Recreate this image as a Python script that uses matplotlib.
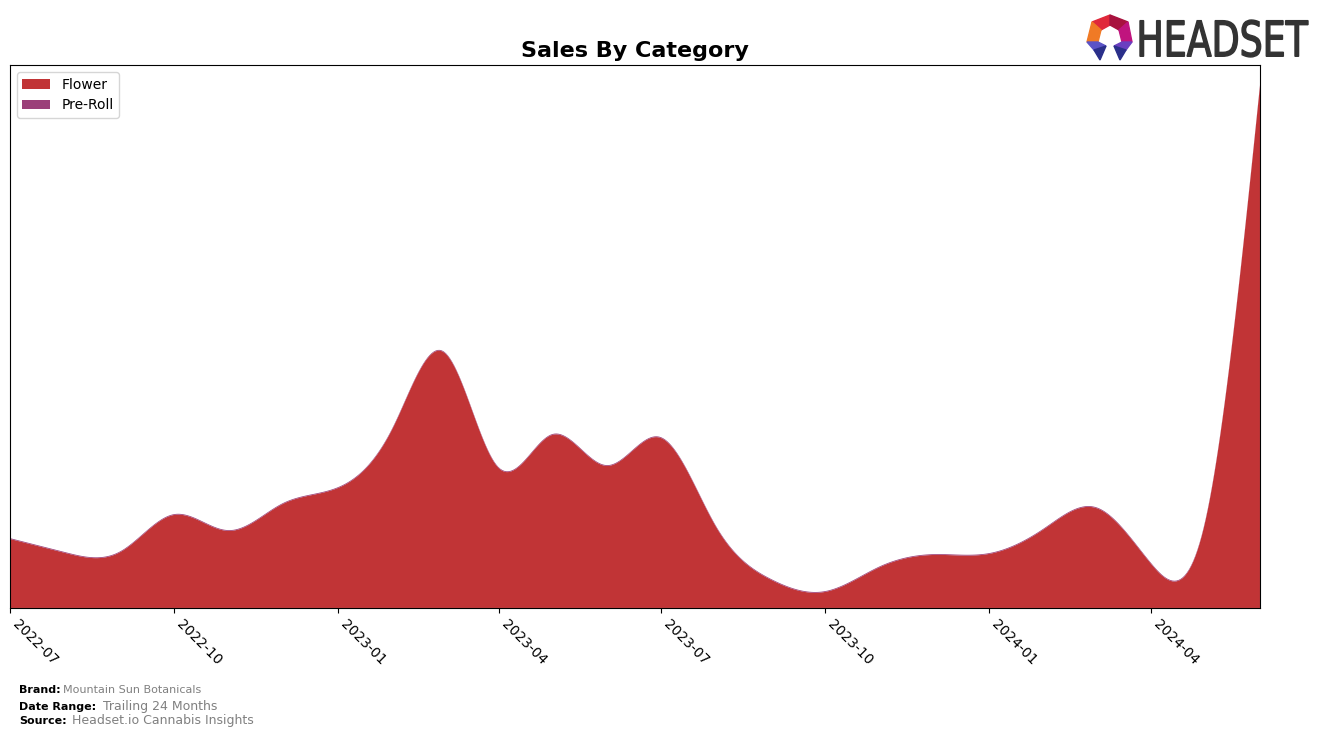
import numpy as np
import pandas as pd
import matplotlib
matplotlib.use('Agg')
import matplotlib.pyplot as plt
import matplotlib.dates as mdates
from matplotlib.textpath import TextPath
from matplotlib.patches import PathPatch, Polygon
from matplotlib.font_manager import FontProperties
import matplotlib.transforms as mtransforms

# monthly sales (arbitrary units)
months = pd.date_range("2022-07-01", "2024-06-01", freq="MS")
flower = [69, 55, 56, 93, 77, 104, 120, 181, 256, 140, 173, 142,
          170, 81, 28, 16, 41, 53, 54, 79, 100, 44, 84, 522]
preroll = [0.8] * 24

flower_color = '#c13436'
preroll_color = '#9b4079'


def natural_spline(x, y, xs):
    # natural cubic spline, numpy only
    x = np.asarray(x, float)
    y = np.asarray(y, float)
    n = len(x)
    h = np.diff(x)
    A = np.zeros((n, n))
    b = np.zeros(n)
    A[0, 0] = A[-1, -1] = 1
    for i in range(1, n - 1):
        A[i, i - 1] = h[i - 1]
        A[i, i] = 2 * (h[i - 1] + h[i])
        A[i, i + 1] = h[i]
        b[i] = 3 * ((y[i + 1] - y[i]) / h[i] - (y[i] - y[i - 1]) / h[i - 1])
    c = np.linalg.solve(A, b)
    idx = np.clip(np.searchsorted(x, xs) - 1, 0, n - 2)
    dx = xs - x[idx]
    bb = (y[idx + 1] - y[idx]) / h[idx] - h[idx] * (2 * c[idx] + c[idx + 1]) / 3
    d = (c[idx + 1] - c[idx]) / (3 * h[idx])
    return y[idx] + bb * dx + c[idx] * dx ** 2 + d * dx ** 3


xnum = mdates.date2num(months)
xs = np.linspace(xnum[0], xnum[-1], 600)
f_s = np.clip(natural_spline(xnum, flower, xs), 0, None)
p_s = np.clip(natural_spline(xnum, preroll, xs), 0, None)

fig = plt.figure(figsize=(13.24, 7.38), dpi=100)
ax = fig.add_axes([0.00755, 0.1762, 0.9441, 0.7357])

ax.stackplot(mdates.num2date(xs), f_s, p_s, colors=[flower_color, preroll_color],
             labels=['Flower', 'Pre-Roll'])
ax.set_xlim(months[0], months[-1])
ax.set_ylim(0, max(flower) * 1.04)
ax.set_yticks([])
ax.xaxis.set_major_locator(mdates.MonthLocator(bymonth=[1, 4, 7, 10]))
ax.xaxis.set_major_formatter(mdates.DateFormatter('%Y-%m'))
plt.setp(ax.get_xticklabels(), rotation=-45, ha='left', fontsize=10)
ax.set_title('Sales By Category', fontsize=16, fontweight='bold', pad=6)
ax.legend(loc='upper left', fontsize=10)

# footer
fig.text(0.0144, 0.0608, 'Brand:', fontsize=8, fontweight='bold')
fig.text(0.0476, 0.0608, 'Mountain Sun Botanicals', fontsize=8, color='gray')
fig.text(0.0144, 0.0385, 'Date Range:', fontsize=8, fontweight='bold')
fig.text(0.0775, 0.0385, 'Trailing 24 Months', fontsize=9, color='gray')
fig.text(0.0144, 0.0185, 'Source:', fontsize=8, fontweight='bold')
fig.text(0.0543, 0.0185, 'Headset.io Cannabis Insights', fontsize=9, color='gray')

# logo: squeezed text path in figure pixels
tp = TextPath((0, 0), 'HEADSET', size=50, prop=FontProperties(family='DejaVu Sans'))
bb = tp.get_extents()
sx = 168 / bb.width
sy = 37 / bb.height
tr = mtransforms.Affine2D().translate(-bb.x0, -bb.y0).scale(sx, sy).translate(1140, 738 - 57)
fig.patches.append(PathPatch(tr.transform_path(tp), color='#333333', transform=None))

icon = [
    ([(1092, 22), (1110, 15), (1110, 25), (1101, 30)], '#e0283a'),
    ([(1110, 15), (1128, 22), (1119, 30), (1110, 25)], '#a8123e'),
    ([(1128, 22), (1132, 42), (1122, 42), (1119, 30)], '#c0147e'),
    ([(1092, 22), (1101, 30), (1098, 42), (1087, 42)], '#f07a25'),
    ([(1087, 42), (1098, 42), (1106, 46), (1094, 50)], '#5b53c6'),
    ([(1094, 50), (1106, 46), (1100, 60)], '#2a2f8a'),
    ([(1132, 42), (1122, 42), (1114, 46), (1126, 50)], '#6a3fc0'),
    ([(1126, 50), (1114, 46), (1120, 60)], '#2a2f8a'),
]
for pts, col in icon:
    pts = [(px, 738 - py) for px, py in pts]
    fig.patches.append(Polygon(pts, closed=True, color=col, transform=None))

plt.savefig('out.png', dpi=100)
